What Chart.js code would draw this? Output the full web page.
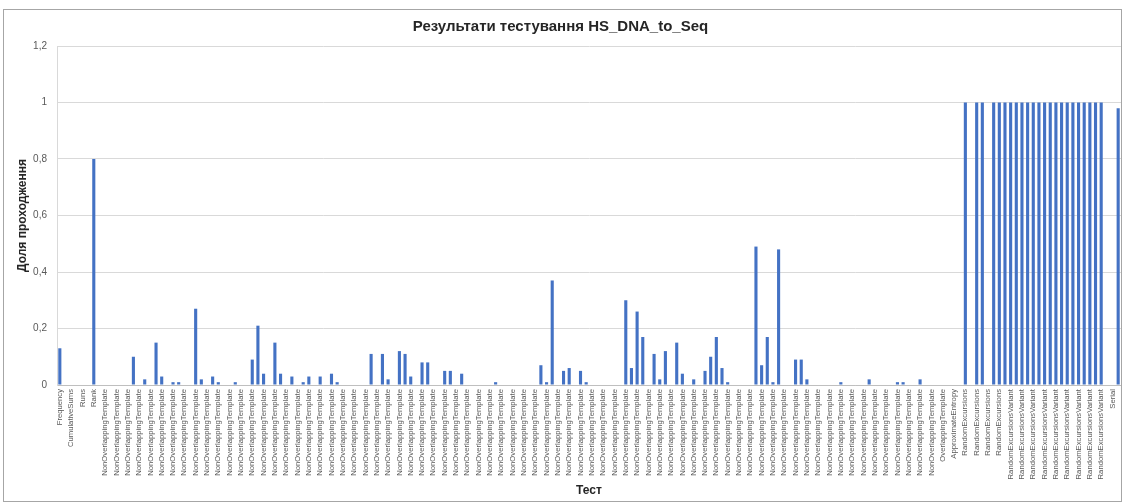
<!DOCTYPE html>
<html lang="uk">
<head>
<meta charset="utf-8">
<title>Результати тестування HS_DNA_to_Seq</title>
<script src="https://cdn.jsdelivr.net/npm/chart.js@4.4.1/dist/chart.umd.min.js"></script>
<style>
  html, body { margin: 0; padding: 0; background: #fff; }
  #wrap { position: relative; width: 1123px; height: 504px; }
  #frame {
    position: absolute; left: 3px; top: 9px; width: 1117px; height: 491px;
    border: 1px solid #a6a6a6; pointer-events: none;
  }
  canvas { position: absolute; left: 0; top: 0; }
</style>
</head>
<body>
<div id="wrap">
  <canvas id="passChart" width="1123" height="504"></canvas>
  <div id="frame"></div>
</div>
<script>
// NIST STS test families in report order, with how many sub-tests each has
const testFamilies = [
  ['Frequency', 1], ['BlockFrequency', 1], ['CumulativeSums', 2], ['Runs', 1],
  ['LongestRun', 1], ['Rank', 1], ['FFT', 1], ['NonOverlappingTemplate', 148],
  ['OverlappingTemplate', 1], ['Universal', 1], ['ApproximateEntropy', 1],
  ['RandomExcursions', 8], ['RandomExcursionsVariant', 18], ['Serial', 2],
  ['LinearComplexity', 1],
];

// pass proportion per test
const headValues = [0.13, 0, 0, 0, 0, 0, 0.8, 0];

const templateValues = [
  0, 0, 0, 0, 0, 0.1, 0, 0.02, 0, 0.15,
  0.03, 0, 0.01, 0.01, 0, 0, 0.27, 0.02, 0, 0.03,
  0.01, 0, 0, 0.01, 0, 0, 0.09, 0.21, 0.04, 0,
  0.15, 0.04, 0, 0.03, 0, 0.01, 0.03, 0, 0.03, 0,
  0.04, 0.01, 0, 0, 0, 0, 0, 0.11, 0, 0.11,
  0.02, 0, 0.12, 0.11, 0.03, 0, 0.08, 0.08, 0, 0,
  0.05, 0.05, 0, 0.04, 0, 0, 0, 0, 0, 0.01,
  0, 0, 0, 0, 0, 0, 0, 0.07, 0.01, 0.37,
  0, 0.05, 0.06, 0, 0.05, 0.01, 0, 0, 0, 0,
  0, 0, 0.3, 0.06, 0.26, 0.17, 0, 0.11, 0.02, 0.12,
  0, 0.15, 0.04, 0, 0.02, 0, 0.05, 0.1, 0.17, 0.06,
  0.01, 0, 0, 0, 0, 0.49, 0.07, 0.17, 0.01, 0.48,
  0, 0, 0.09, 0.09, 0.02, 0, 0, 0, 0, 0,
  0.01, 0, 0, 0, 0, 0.02, 0, 0, 0, 0,
  0.01, 0.01, 0, 0, 0.02, 0, 0, 0,
];

// OverlappingTemplate, Universal, ApproximateEntropy
const midValues = [0, 0, 0];
const excursionValues = [0, 1, 0, 1, 1, 0, 1, 1];
const variantValues = [1, 1, 1, 1, 1, 1, 1, 1, 1, 1, 1, 1, 1, 1, 1, 1, 1, 1];
// Serial x2, LinearComplexity
const tailValues = [0, 0, 0.98];

const yTicks = [0, 0.2, 0.4, 0.6, 0.8, 1, 1.2];

const tests = [];
testFamilies.forEach(([name, n]) => {
  for (let i = 0; i < n; i++) tests.push(name);
});

const passRate = [
  ...headValues, ...templateValues, ...midValues,
  ...excursionValues, ...variantValues, ...tailValues,
];

Chart.defaults.font.family = "'Liberation Sans', Arial, sans-serif";

new Chart(document.getElementById('passChart'), {
  type: 'bar',
  data: {
    labels: tests,
    datasets: [{
      data: passRate,
      backgroundColor: '#4472c4',
      borderWidth: 0,
      barPercentage: 0.55,
      categoryPercentage: 1,
    }],
  },
  options: {
    responsive: false,
    animation: false,
    layout: { padding: { left: 0, right: 2, top: 0, bottom: 0 } },
    plugins: {
      legend: { display: false },
      tooltip: { enabled: false },
      title: {
        display: true,
        text: 'Результати тестування HS_DNA_to_Seq',
        color: '#262626',
        font: { size: 15, weight: 'bold' },
        padding: { top: 18, bottom: 10 },
      },
    },
    scales: {
      x: {
        grid: { display: false, drawTicks: false },
        border: { color: '#bfbfbf' },
        ticks: {
          autoSkip: false,
          maxRotation: 90,
          minRotation: 90,
          padding: 4,
          color: '#595959',
          font: { size: 7.7 },
          // every second test name is printed
          callback(value, i) {
            return i % 2 === 0 ? this.getLabelForValue(value) : '';
          },
        },
        title: {
          display: true,
          text: 'Тест',
          color: '#262626',
          font: { size: 12, weight: 'bold' },
          padding: { top: 0, bottom: 6 },
        },
        afterFit(scale) {
          scale.height = 119;
          scale.paddingLeft = 0;
          scale.paddingRight = 0;
        },
      },
      y: {
        min: 0,
        max: 1.2,
        afterBuildTicks(scale) { scale.ticks = yTicks.map(v => ({ value: v })); },
        grid: { color: '#d9d9d9', drawTicks: false },
        border: { display: true, color: '#d9d9d9' },
        ticks: {
          padding: 10,
          color: '#595959',
          font: { size: 10 },
          callback: v => String(Math.round(v * 10) / 10).replace('.', ','),
        },
        title: {
          display: true,
          text: 'Доля проходження',
          color: '#262626',
          font: { size: 12, weight: 'bold' },
          padding: { top: 15, bottom: 0 },
        },
        afterFit(scale) { scale.width = 57; },
      },
    },
  },
});
</script>
</body>
</html>
